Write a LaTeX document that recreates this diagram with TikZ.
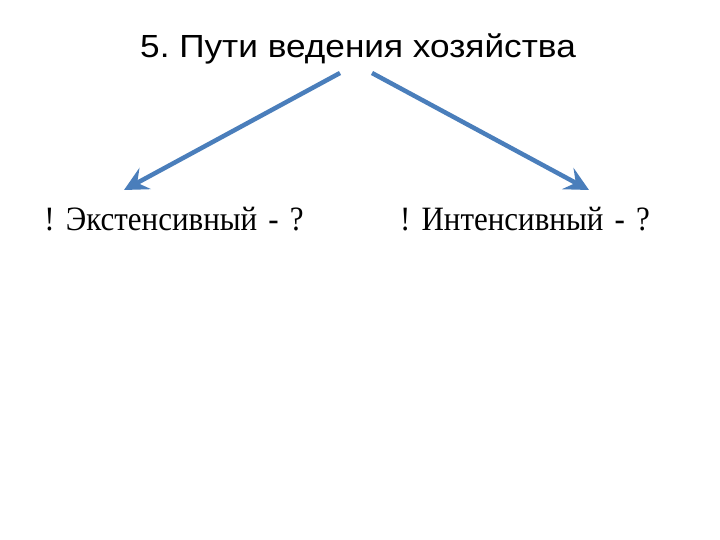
\documentclass[tikz,border=0pt]{standalone}
\usepackage{fontspec}
\setmainfont{Liberation Serif}
\newfontfamily\titlefont{Liberation Sans}
\usetikzlibrary{arrows.meta}
\definecolor{arrowblue}{RGB}{74,126,187}
\frenchspacing

\begin{document}
\begin{tikzpicture}[x=1pt,y=-1pt,
  pointer/.style={draw=arrowblue,line width=4.5pt,
    -{Stealth[length=24pt,width=24pt,inset=9pt]}},
  way/.style={font={\fontsize{31}{38}\selectfont\spaceskip=0.36em\relax},yscale=1.1,anchor=base}]
\useasboundingbox (0,0) rectangle (720,540);
\node[font=\titlefont\fontsize{32}{38}\selectfont,xscale=1.1,anchor=base] (title) at (358,58) {5. Пути ведения хозяйства};
\coordinate (ls) at (340,73);
\coordinate (rs) at (372,73);
\coordinate (le) at (124,190);
\coordinate (re) at (589,190);
\draw[pointer] (ls) -- (le);
\draw[pointer] (rs) -- (re);
\node[way] (ext) at (174,230) {! Экстенсивный - ?};
\node[way] (int) at (525,230) {! Интенсивный - ?};
\end{tikzpicture}
\end{document}
